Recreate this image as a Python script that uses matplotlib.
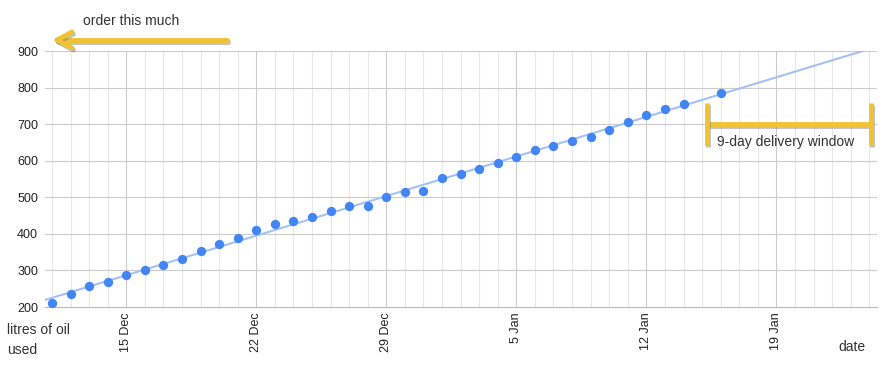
import datetime as dt
import numpy as np
import matplotlib
matplotlib.use("Agg")
import matplotlib.pyplot as plt
import matplotlib.dates as mdates
import matplotlib.patheffects as pe
from matplotlib.lines import Line2D

# daily readings of oil used (litres)
dates = [dt.date(2019, 12, 11) + dt.timedelta(days=i) for i in range(35)] + [dt.date(2020, 1, 16)]
litres = [212, 235, 257, 268, 288, 301, 314, 330, 352, 372, 389, 410, 426, 435,
          445, 463, 475, 475, 501, 515, 518, 552, 563, 577, 595, 610, 628, 639,
          654, 664, 685, 705, 724, 742, 756, 784]
y_ticks = [200, 300, 400, 500, 600, 700, 800, 900]
x_start = dt.datetime(2019, 12, 10, 15)
x_end = dt.datetime(2020, 1, 24, 10)

W, H = 896, 371
fig = plt.figure(figsize=(W / 100, H / 100), dpi=100)
plt.rcParams['font.family'] = ['Liberation Sans', 'DejaVu Sans']


def px(x, y):
    return x / W, 1 - y / H


ax = fig.add_axes([45 / W, 1 - 307 / H, (877 - 45) / W, (307 - 51) / H])

xd = mdates.date2num(dates)
coef = np.polyfit(xd, litres, 1)
xl = np.array([mdates.date2num(x_start), mdates.date2num(x_end)])
ax.plot(xl, np.polyval(coef, xl), color='#a4c2f4', lw=1.5, zorder=2)
ax.scatter(xd, litres, s=45, color='#4285f4', zorder=3, linewidths=0)

ax.set_xlim(xl[0], xl[1])
ax.set_ylim(200, 900)
ax.set_yticks(y_ticks)
ax.xaxis.set_major_locator(mdates.WeekdayLocator(byweekday=mdates.SU))
ax.xaxis.set_minor_locator(mdates.DayLocator())
ax.xaxis.set_major_formatter(plt.FuncFormatter(
    lambda v, p: "%d %s" % (mdates.num2date(v).day, mdates.num2date(v).strftime('%b'))))
ax.grid(which='major', color='#cccccc', lw=0.8)
ax.grid(which='minor', axis='x', color='#e8e8e8', lw=0.8)
ax.set_axisbelow(True)
for s in ['top', 'right', 'left']:
    ax.spines[s].set_visible(False)
ax.spines['bottom'].set_color('#bbbbbb')
ax.tick_params(which='both', length=0)
ax.tick_params(axis='x', labelrotation=90, pad=4, labelsize=9, labelcolor='#222222')
ax.tick_params(axis='y', pad=5, labelsize=9, labelcolor='#222222')

# axis titles
fig.text(*px(7, 340), "litres of oil\nused", fontsize=10, color='#333333',
         va='center', ha='left', linespacing=1.55)
fig.text(*px(838, 347), "date", fontsize=10, color='#333333', va='center', ha='left')

line_shadow = [pe.SimpleLineShadow(offset=(1.0, -1.5), shadow_color='#777777', alpha=0.45), pe.Normal()]


def yellow_line(xs, ys, cap='butt'):
    x0, y0 = px(xs[0], ys[0])
    x1, y1 = px(xs[1], ys[1])
    fig.add_artist(Line2D([x0, x1], [y0, y1], transform=fig.transFigure, color='#f1c232',
                          lw=3.5, solid_capstyle=cap, solid_joinstyle='round',
                          path_effects=line_shadow))


# arrow annotation
yellow_line((227, 59), (40, 40), cap='round')
yellow_line((57, 72), (40, 32), cap='round')
yellow_line((57, 72), (40, 48), cap='round')
fig.text(*px(83, 21), "order this much", fontsize=10, color='#333333', va='center', ha='left')

# delivery window bracket
yellow_line((707, 871), (124, 124))
yellow_line((707, 707), (103, 145))
yellow_line((871, 871), (103, 145))
fig.text(*px(717, 142), "9-day delivery window", fontsize=10, color='#333333',
         va='center', ha='left')

fig.savefig('out.png', dpi=100)
